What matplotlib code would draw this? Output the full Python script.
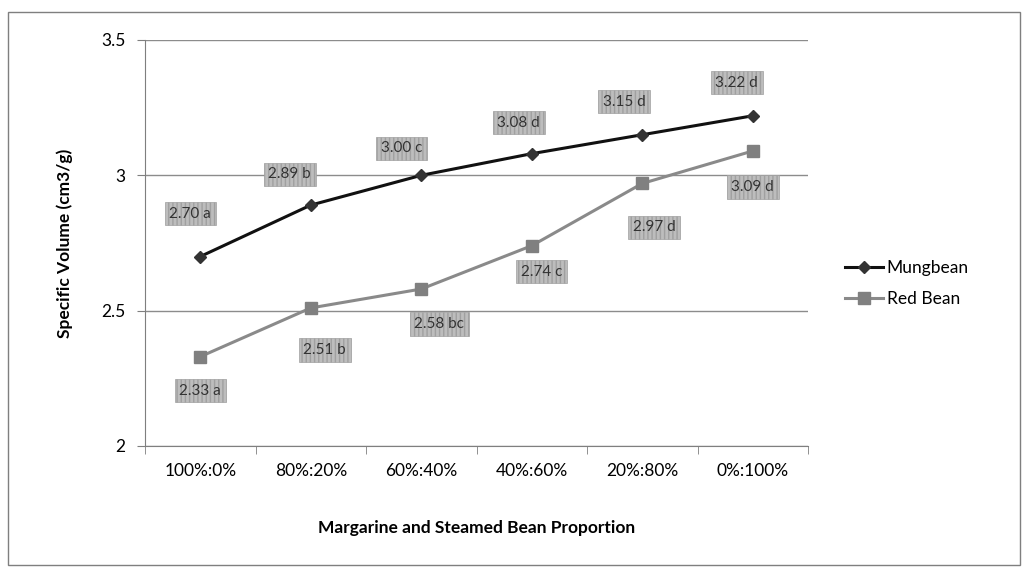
import matplotlib.pyplot as plt
from matplotlib.patches import Rectangle
import numpy as np

plt.rcParams["font.family"] = ["Lato", "DejaVu Sans"]

categories = ["100%:0%", "80%:20%", "60%:40%", "40%:60%", "20%:80%", "0%:100%"]
mungbean = [2.70, 2.89, 3.00, 3.08, 3.15, 3.22]
red_bean = [2.33, 2.51, 2.58, 2.74, 2.97, 3.09]
mung_labels = ["2.70 a", "2.89 b", "3.00 c", "3.08 d", "3.15 d", "3.22 d"]
red_labels = ["2.33 a", "2.51 b", "2.58 bc", "2.74 c", "2.97 d", "3.09 d"]

# label offsets from the point, pixels
mung_offsets = [(-10, 43), (-21, 31), (-20, 27), (-13, 31), (-18, 33), (-16, 33)]
red_offsets = [(0, -34), (14, -42), (18, -35), (10, -26), (12, -44), (0, -36)]


def main() -> None:
    fig = plt.figure(figsize=(10.24, 5.71), dpi=100)
    ax = fig.add_axes([145 / 1024, 1 - 446 / 571, 663 / 1024, 406 / 571])

    # chart border
    fig.patches.append(Rectangle((8 / 1024, 1 - 565 / 571), 1012 / 1024, 553 / 571,
                                 transform=fig.transFigure, fill=False,
                                 edgecolor="#7f7f7f", linewidth=1))

    x = np.arange(len(categories))
    ax.plot(x, mungbean, color="#111111", linewidth=2.2, marker="D", markersize=6,
            markerfacecolor="#333333", markeredgecolor="#333333", label="Mungbean", zorder=3)
    ax.plot(x, red_bean, color="#8a8a8a", linewidth=2.2, marker="s", markersize=8,
            markerfacecolor="#808080", markeredgecolor="#808080", label="Red Bean", zorder=3)

    box = dict(boxstyle="square,pad=0.3", facecolor="#bdbdbd", edgecolor="#a0a0a0",
               hatch="||||", linewidth=0.5)
    for xi, yi, lab, off in zip(x, mungbean, mung_labels, mung_offsets):
        ax.annotate(lab, (xi, yi), xytext=off, textcoords="offset pixels", ha="center",
                    va="center", fontsize=11, color="#333333", bbox=box, zorder=4)
    for xi, yi, lab, off in zip(x, red_bean, red_labels, red_offsets):
        ax.annotate(lab, (xi, yi), xytext=off, textcoords="offset pixels", ha="center",
                    va="center", fontsize=11, color="#333333", bbox=box, zorder=4)

    ax.set_xlim(-0.5, len(categories) - 0.5)
    ax.set_ylim(2, 3.5)
    ax.set_yticks([2, 2.5, 3, 3.5])
    ax.set_yticklabels(["2", "2.5", "3", "3.5"])
    ax.yaxis.grid(True, color="#8c8c8c", linewidth=1)
    ax.set_axisbelow(True)

    ax.set_xticks(x)
    ax.set_xticklabels(categories)
    ax.set_xticks(np.arange(-0.5, len(categories)), minor=True)
    ax.tick_params(axis="x", which="major", length=0, pad=12, labelsize=12.5)
    ax.tick_params(axis="x", which="minor", length=6, color="#7f7f7f", direction="out")
    ax.tick_params(axis="y", length=6, color="#7f7f7f", direction="out", pad=8, labelsize=12.5)

    for side in ["top", "right"]:
        ax.spines[side].set_visible(False)
    for side in ["left", "bottom"]:
        ax.spines[side].set_color("#7f7f7f")

    ax.set_xlabel("Margarine and Steamed Bean Proportion", fontsize=12.5, fontweight="bold",
                  labelpad=30)
    ax.set_ylabel("Specific Volume (cm3/g)", fontsize=12.5, fontweight="bold", labelpad=20)

    ax.legend(loc="center left", bbox_to_anchor=((838 - 145) / 663, 0.4), frameon=False,
              fontsize=12.5, handlelength=2.2, handletextpad=0.2, labelspacing=0.9,
              borderaxespad=0)

    fig.savefig("out.png", dpi=100)
    plt.close(fig)


if __name__ == "__main__":
    main()
